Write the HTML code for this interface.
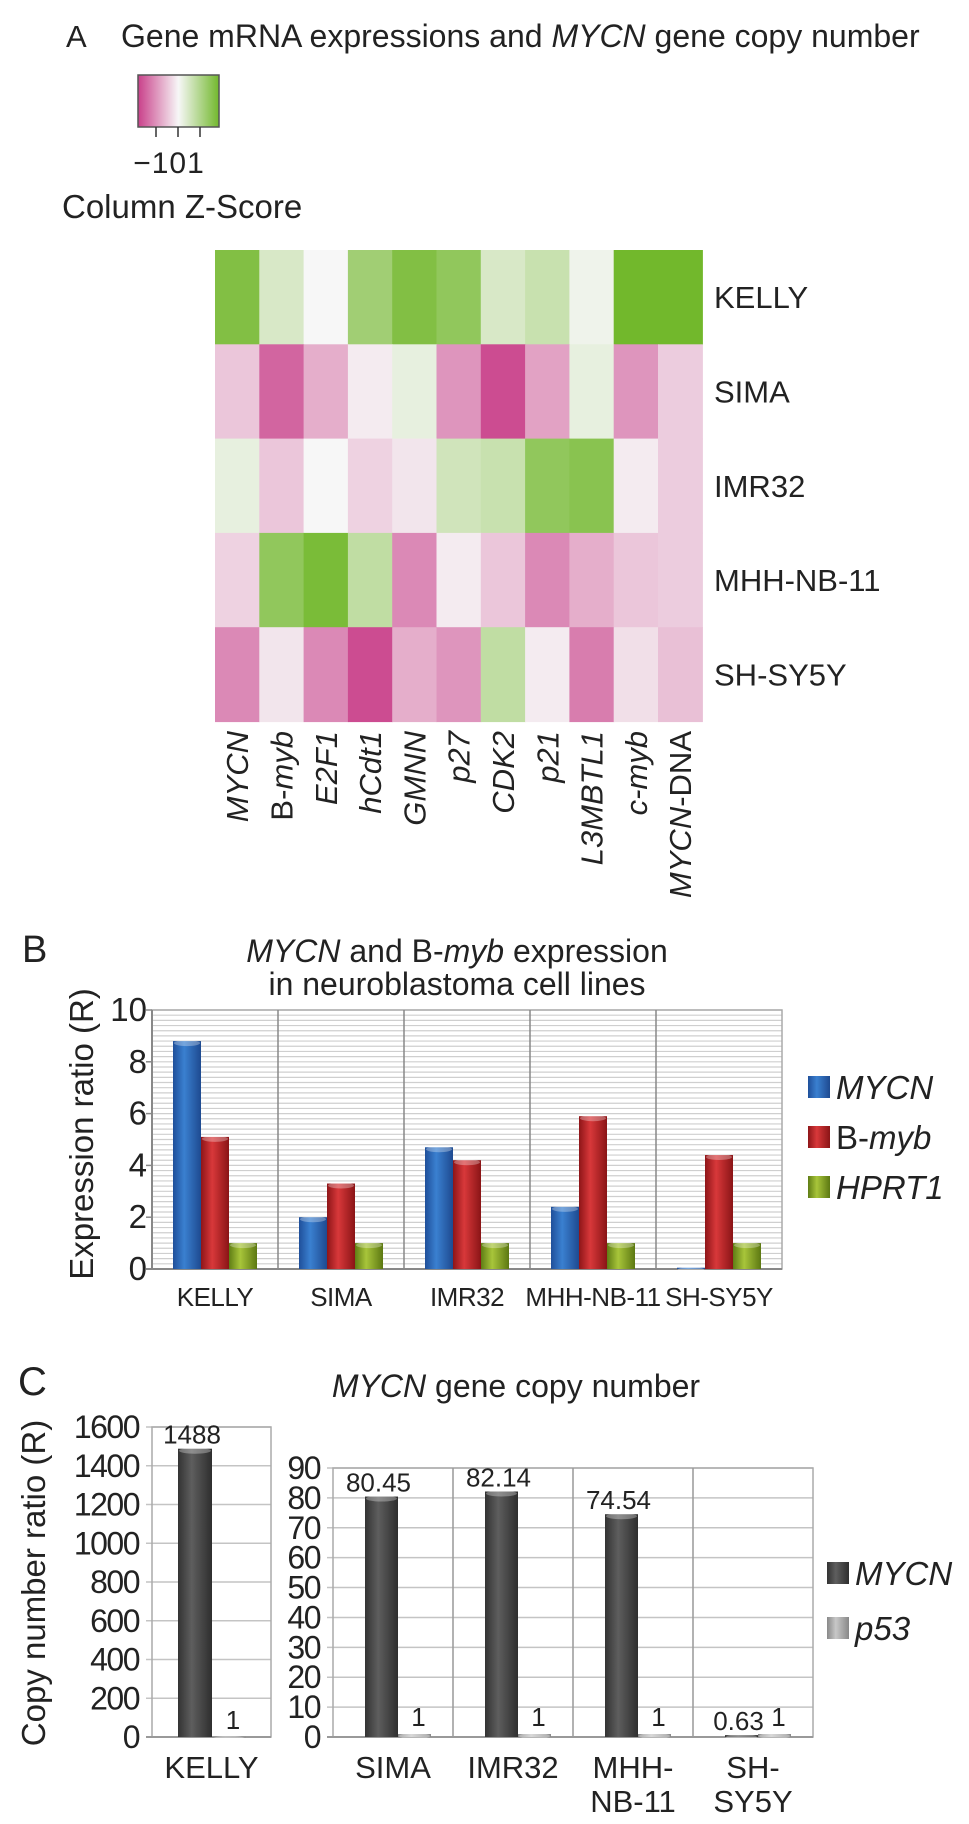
<!DOCTYPE html>
<html><head><meta charset="utf-8"><style>
html,body{margin:0;padding:0;background:#fff}
svg{display:block;font-family:"Liberation Sans",Arial,sans-serif}
</style></head><body>
<svg id="fig" width="969" height="1824" viewBox="0 0 969 1824">
<defs>
<linearGradient id="zgrad" x1="0" x2="1" y1="0" y2="0"><stop offset="0" stop-color="#c9408a"/><stop offset="0.5" stop-color="#f7f7f7"/><stop offset="1" stop-color="#72b82c"/></linearGradient>
<linearGradient id="gBlue" x1="0" x2="1"><stop offset="0" stop-color="#1f4f9a"/><stop offset="0.4" stop-color="#3a80d0"/><stop offset="1" stop-color="#1e4a90"/></linearGradient>
<linearGradient id="gRed" x1="0" x2="1"><stop offset="0" stop-color="#8e1518"/><stop offset="0.4" stop-color="#d8383a"/><stop offset="1" stop-color="#8a1416"/></linearGradient>
<linearGradient id="gGreen" x1="0" x2="1"><stop offset="0" stop-color="#5f7d15"/><stop offset="0.4" stop-color="#a8c53a"/><stop offset="1" stop-color="#5c7812"/></linearGradient>
<linearGradient id="gDark" x1="0" x2="1"><stop offset="0" stop-color="#333"/><stop offset="0.4" stop-color="#5e5e5e"/><stop offset="1" stop-color="#2e2e2e"/></linearGradient>
<linearGradient id="gLight" x1="0" x2="1"><stop offset="0" stop-color="#888"/><stop offset="0.4" stop-color="#c8c8c8"/><stop offset="1" stop-color="#888"/></linearGradient>
</defs>

<!-- Panel A -->
<text x="66" y="47" font-size="31" fill="#222">A</text>
<text x="121" y="47" font-size="32" fill="#222">Gene mRNA expressions and <tspan font-style="italic">MYCN</tspan> gene copy number</text>
<rect x="138" y="75" width="81" height="52" fill="url(#zgrad)" stroke="#555" stroke-width="1.5"/>
<g stroke="#333" stroke-width="1.5">
<line x1="156" y1="127" x2="156" y2="137"/><line x1="178" y1="127" x2="178" y2="137"/><line x1="200" y1="127" x2="200" y2="137"/></g>
<text x="169" y="173" font-size="30" fill="#222" text-anchor="middle" letter-spacing="1">−101</text>
<text x="62" y="218" font-size="33" fill="#222">Column Z-Score</text>
<g id="heat"></g>

<!-- Panel B -->
<text x="22" y="962" font-size="38" fill="#222">B</text>
<text x="457" y="962" font-size="32" fill="#222" text-anchor="middle"><tspan font-style="italic">MYCN</tspan> and B-<tspan font-style="italic">myb</tspan> expression</text>
<text x="457" y="995" font-size="32" fill="#222" text-anchor="middle">in neuroblastoma cell lines</text>
<text transform="translate(93,1134) rotate(-90)" font-size="33" fill="#222" text-anchor="middle">Expression ratio (R)</text>
<g id="chartB"></g>

<!-- Panel C -->
<text x="18" y="1395" font-size="40" fill="#222">C</text>
<text x="516" y="1397" font-size="32" fill="#222" text-anchor="middle"><tspan font-style="italic">MYCN</tspan> gene copy number</text>
<text transform="translate(45,1583) rotate(-90)" font-size="33" fill="#222" text-anchor="middle">Copy number ratio (R)</text>
<g id="chartC"></g>
</svg>
<script>
// ---------- Heatmap data ----------
const heatRows = ["KELLY","SIMA","IMR32","MHH-NB-11","SH-SY5Y"];
const heatCols = ["MYCN","B-myb","E2F1","hCdt1","GMNN","p27","CDK2","p21","L3MBTL1","c-myb","MYCN-DNA"];
const heatKelly = [1.5,0.4,0,1.1,1.5,1.3,0.4,0.6,0.1,1.7,1.7];
const heatSima = [-0.4,-1.2,-0.6,-0.1,0.2,-0.8,-1.4,-0.7,0.2,-0.8,-0.35];
const heatImr32 = [0.2,-0.4,0,-0.3,-0.15,0.5,0.6,1.3,1.4,-0.1,-0.35];
const heatMhh = [-0.3,1.3,1.6,0.7,-0.9,-0.1,-0.4,-0.9,-0.6,-0.4,-0.35];
const heatShsy = [-0.9,-0.15,-0.9,-1.4,-0.6,-0.8,0.7,-0.1,-1.0,-0.2,-0.45];
// ---------- Chart B data ----------
const bCats = ["KELLY","SIMA","IMR32","MHH-NB-11","SH-SY5Y"];
const bMycn = [8.8,2.0,4.7,2.4,0.05];
const bBmyb = [5.1,3.3,4.2,5.9,4.4];
const bHprt = [1,1,1,1,1];
const bTicks = [0,2,4,6,8,10];
// ---------- Chart C data ----------
const cLeftCats = ["KELLY"];
const cLeftMycn = [1488];
const cLeftP53 = [1];
const cLeftTicks = [0,200,400,600,800,1000,1200,1400,1600];
const cRightCats = [["SIMA"],["IMR32"],["MHH-","NB-11"],["SH-","SY5Y"]];
const cRightMycn = [80.45,82.14,74.54,0.63];
const cRightP53 = [1,1,1,1];
const cRightTicks = [0,10,20,30,40,50,60,70,80,90];

const NS="http://www.w3.org/2000/svg";
function mk(tag,attrs,parent){const e=document.createElementNS(NS,tag);for(const k in attrs)e.setAttribute(k,attrs[k]);parent.appendChild(e);return e;}
function lerp(a,b,t){return Math.round(a+(b-a)*t);}
function zColor(z){
  const pink=[201,64,138],white=[247,247,247],green=[114,184,44];
  let c;
  if(z<0){const t=Math.min(1,-z/1.5);c=[0,1,2].map(i=>lerp(white[i],pink[i],t));}
  else{const t=Math.min(1,z/1.7);c=[0,1,2].map(i=>lerp(white[i],green[i],t));}
  return `rgb(${c[0]},${c[1]},${c[2]})`;
}
// Heatmap
(function(){
  const g=document.getElementById('heat');
  const x0=215,y0=250,cw=44.3,rh=94.3;
  const data=[heatKelly,heatSima,heatImr32,heatMhh,heatShsy];
  data.forEach((row,r)=>{
    row.forEach((v,c)=>{
      const rc=mk('rect',{x:x0+c*cw,y:y0+r*rh,width:cw+0.6,height:rh+0.6,fill:zColor(v)},g);
      
      
    });
    const t=mk('text',{x:714,y:y0+r*rh+rh/2+11,'font-size':31,fill:'#222'},g);
    t.textContent=heatRows[r];
    
    
  });
  heatCols.forEach((name,c)=>{
    const cx=x0+c*cw+cw/2+11;
    const t=mk('text',{transform:`translate(${cx},731) rotate(-90)`,'font-size':31,fill:'#222','text-anchor':'end'},g);
    
    
    let parts;
    if(name==="B-myb")parts=[["B-",false],["myb",true]];
    else if(name==="MYCN-DNA")parts=[["MYCN",true],["-DNA",false]];
    else parts=[[name,true]];
    parts.forEach(p=>{const s=mk('tspan',{},t);if(p[1])s.setAttribute('font-style','italic');s.textContent=p[0];});
  });
})();

function bar(g,x,w,yTop,yBase,fill,name){
  const h=Math.max(0.5,yBase-yTop);
  const r=mk('rect',{x:x,y:yTop,width:w,height:h,fill:fill},g);
  
  
  mk('ellipse',{cx:x+w/2,cy:yTop+2,rx:w/2-1,ry:3,fill:'#fff','fill-opacity':0.3},g);
  return r;
}
// Chart B
(function(){
  const g=document.getElementById('chartB');
  const L=152,R=782,T=1010,B=1269,max=10;
  const y=v=>B-(v/max)*(B-T);
  const cw=(R-L)/bCats.length;
  for(let v=0;v<=max+1e-9;v+=0.2){
    mk('line',{x1:L,x2:R,y1:y(v),y2:y(v),stroke:'#cfcfcf','stroke-width':1.2},g);
  }
  mk('rect',{x:L,y:T,width:R-L,height:B-T,fill:'none',stroke:'#aaa','stroke-width':1.5},g);
  for(let i=1;i<bCats.length;i++)mk('line',{x1:L+i*cw,x2:L+i*cw,y1:T,y2:B,stroke:'#888','stroke-width':1.5},g);
  mk('line',{x1:L-6,x2:R,y1:B,y2:B,stroke:'#888','stroke-width':2},g);
  mk('line',{x1:L,x2:L,y1:T,y2:B,stroke:'#888','stroke-width':2},g);
  bTicks.forEach(v=>{
    mk('line',{x1:L-6,x2:L,y1:y(v),y2:y(v),stroke:'#888','stroke-width':1.5},g);
    const t=mk('text',{x:L-5,y:y(v)+11,'font-size':33,fill:'#222','text-anchor':'end'},g);
    t.textContent=v;
    
    
  });
  const bw=28;
  bCats.forEach((c,i)=>{
    const x0=L+i*cw+21;
    bar(g,x0,bw,y(bMycn[i]),B,'url(#gBlue)','bar-mycn');
    bar(g,x0+bw,bw,y(bBmyb[i]),B,'url(#gRed)','bar-bmyb');
    bar(g,x0+2*bw,bw,y(bHprt[i]),B,'url(#gGreen)','bar-hprt1');
    const t=mk('text',{x:L+i*cw+cw/2,y:1306,'font-size':26,fill:'#222','text-anchor':'middle','letter-spacing':'-0.5'},g);
    t.textContent=c;
    
    
  });
  const leg=[["url(#gBlue)",[["MYCN",true]],1087],["url(#gRed)",[["B-",false],["myb",true]],1137],["url(#gGreen)",[["HPRT1",true]],1187]];
  leg.forEach(l=>{
    const s=mk('rect',{x:808,y:l[2]-11,width:22,height:22,fill:l[0]},g);
    
    
    const t=mk('text',{x:836,y:l[2]+12,'font-size':33,fill:'#222'},g);
    
    
    l[1].forEach(p=>{const sp=mk('tspan',{},t);if(p[1])sp.setAttribute('font-style','italic');sp.textContent=p[0];});
  });
})();
// Chart C
(function(){
  const g=document.getElementById('chartC');
  const B=1737;
  function panel(L,R,T,max,ticks,cats,mycn,p53,off,bw){
    const y=v=>B-(v/max)*(B-T);
    const cw=(R-L)/cats.length;
    ticks.forEach(v=>{
      mk('line',{x1:L-6,x2:R,y1:y(v),y2:y(v),stroke:'#c4c4c4','stroke-width':1.5},g);
      const t=mk('text',{x:L-13,y:y(v)+11,'font-size':32,fill:'#222','text-anchor':'end','letter-spacing':'-1.5'},g);
      t.textContent=v;
      
      
    });
    mk('rect',{x:L,y:T,width:R-L,height:B-T,fill:'none',stroke:'#aaa','stroke-width':1.5},g);
    for(let i=1;i<cats.length;i++)mk('line',{x1:L+i*cw,x2:L+i*cw,y1:T,y2:B,stroke:'#999','stroke-width':1.5},g);
    mk('line',{x1:L-6,x2:R,y1:B,y2:B,stroke:'#999','stroke-width':2},g);
    cats.forEach((c,i)=>{
      const x0=L+i*cw+off;
      bar(g,x0,bw,y(mycn[i]),B,'url(#gDark)','bar-mycn-copy');
      bar(g,x0+bw,bw,y(p53[i]),B,'url(#gLight)','bar-p53-copy');
      const v1=mk('text',{x:x0+bw/2-3,y:y(mycn[i])-5,'font-size':26,fill:'#222','text-anchor':'middle'},g);
      v1.textContent=mycn[i];
      
      
      const v2=mk('text',{x:x0+bw*1.5+4,y:y(p53[i])-8,'font-size':26,fill:'#222','text-anchor':'middle'},g);
      v2.textContent=p53[i];
      
      
      const lines=Array.isArray(c)?c:[c];
      lines.forEach((ln,k)=>{
        const t=mk('text',{x:L+i*cw+cw/2,y:1778+k*34,'font-size':31,fill:'#222','text-anchor':'middle'},g);
        t.textContent=ln;
        
        
      });
    });
  }
  panel(152,271,1427,1600,cLeftTicks,cLeftCats,cLeftMycn,cLeftP53,26,34);
  panel(333,813,1468,90,cRightTicks,cRightCats,cRightMycn,cRightP53,32,33);
  const leg=[["url(#gDark)","MYCN",1573],["url(#gLight)","p53",1628]];
  leg.forEach(l=>{
    const s=mk('rect',{x:827,y:l[2]-11,width:22,height:22,fill:l[0]},g);
    
    
    const t=mk('text',{x:855,y:l[2]+12,'font-size':33,fill:'#222','font-style':'italic'},g);
    t.textContent=l[1];
    
    
  });
})();
</script>
</body></html>
